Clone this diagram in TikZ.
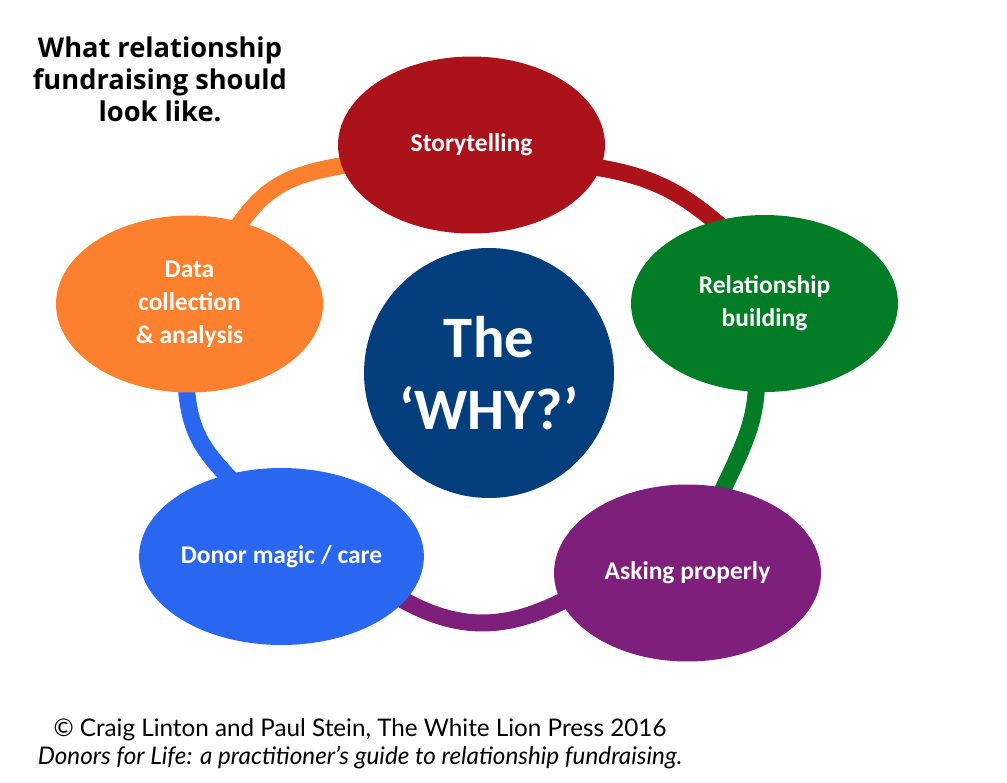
\documentclass[tikz,border=0pt]{standalone}
\usepackage{fontspec}
\setmainfont{Lato}
\newfontfamily\bulle{Carlito}
\newfontfamily\titre{Open Sans}
\usetikzlibrary{shapes.geometric,backgrounds}

\definecolor{rouge}{RGB}{171,18,26}
\definecolor{vert}{RGB}{3,125,37}
\definecolor{violet}{RGB}{126,31,124}
\definecolor{bleu}{RGB}{41,103,240}
\definecolor{orange}{RGB}{252,128,45}
\definecolor{marine}{RGB}{5,62,125}

\begin{document}
\begin{tikzpicture}[x=0.02cm,y=-0.02cm]
\tikzstyle{bulle} = [ellipse,minimum width=5.34cm,minimum height=3.54cm,inner sep=0pt,text=white,align=center,font=\bulle\bfseries\fontsize{14.5}{18.8}\selectfont] %les bulles
\tikzstyle{lien} = [line width=0.34cm,shorten <=-0.3cm,shorten >=-0.3cm] %les liens

\useasboundingbox (0,0) rectangle (1007,782);

%titre
\node[align=center,font=\titre\bfseries\fontsize{15.5}{18.2}\selectfont] (titre) at (160,79) {What relationship\\fundraising should\\look like.};

%les bulles
\node[bulle,fill=rouge] (story) at (471.5,145) {Storytelling};
\node[bulle,fill=vert] (relation) at (764.5,303.5) {Relationship\\building};
\node[bulle,fill=violet] (asking) at (687.5,573) {Asking properly};
\node[bulle,fill=bleu] (donor) at (281.5,556.5) {Donor magic / care};
\node[bulle,fill=orange] (data) at (189.5,304) {Data\\collection\\\&~analysis};

%le cercle du milieu
\node[circle,fill=marine,minimum size=5cm,inner sep=0pt,text=white,align=center,font=\bulle\bfseries\fontsize{33.4}{41}\selectfont] (why) at (489,373) {The\\‘WHY?’};

%les liens
\begin{pgfonlayer}{background}
\draw[lien,orange] (story.189) .. controls (282,174) and (264,189) .. (data.58);
\draw[lien,rouge] (story.350) .. controls (655,175) and (685,195) .. (relation.121);
\draw[lien,vert] (relation.265) .. controls (757,425) and (740,452) .. (asking.67);
\draw[lien,violet] (asking.193) .. controls (510,630) and (460,635) .. (donor.340);
\draw[lien,bleu] (donor.124) .. controls (205,452) and (188,435) .. (data.268);
\end{pgfonlayer}

%source
\node[align=center,font=\fontsize{13.8}{16}\selectfont] (source) at (360,744) {© Craig Linton and Paul Stein, The White Lion Press 2016\\\itshape Donors for Life: a practitioner’s guide to relationship fundraising.};
\end{tikzpicture}
\end{document}
